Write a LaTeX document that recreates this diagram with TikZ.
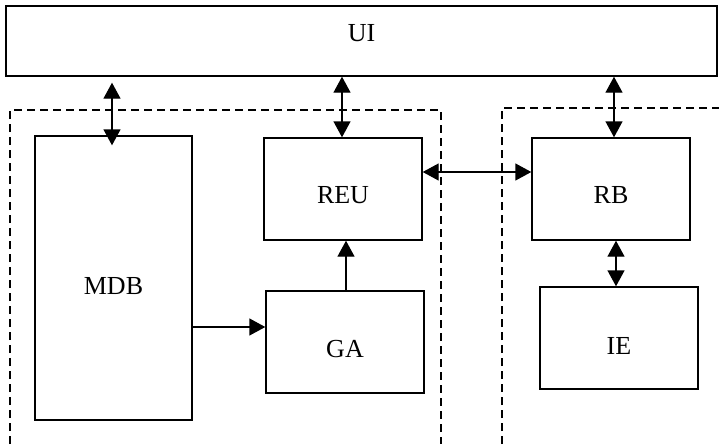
\documentclass[tikz,border=0pt]{standalone}
\usepackage{fontspec}
\setmainfont{Liberation Serif}
\usetikzlibrary{arrows.meta}
\tikzset{
  box/.style={draw, line width=1.4pt, rectangle, inner sep=0pt, fill=white},
  region/.style={draw, line width=1.3pt, dash pattern=on 8pt off 5pt},
  conn/.style={line width=1.4pt},
  tip/.style={-{Triangle[length=16pt,width=17pt]}},
  dbl/.style={{Triangle[length=16pt,width=17pt]}-{Triangle[length=16pt,width=17pt]}},
  lbl/.style={font=\fontsize{26}{30}\selectfont, inner sep=0pt}
}
\begin{document}
\begin{tikzpicture}[x=1pt, y=-1pt]
\useasboundingbox (0,0) rectangle (719,444);
% dashed regions
\draw[region] (10,444) -- (10,110) -- (441,110) -- (441,444);
\draw[region] (502,444) -- (502,108) -- (719,108);
% boxes
\node[box, minimum width=711pt, minimum height=70pt] (UI) at (361.5,41) {};
\node[lbl, yshift=8pt] (UIt) at (UI.center) {UI};
\node[box, minimum width=157pt, minimum height=284pt] (MDB) at (113.5,278) {};
\node[lbl, yshift=-8pt] (MDBt) at (MDB.center) {MDB};
\node[box, minimum width=158pt, minimum height=102pt] (REU) at (343,189) {};
\node[lbl, yshift=-6pt] (REUt) at (REU.center) {REU};
\node[box, minimum width=158pt, minimum height=102pt] (GA) at (345,342) {};
\node[lbl, yshift=-7pt] (GAt) at (GA.center) {GA};
\node[box, minimum width=158pt, minimum height=102pt] (RB) at (611,189) {};
\node[lbl, yshift=-6.5pt] (RBt) at (RB.center) {RB};
\node[box, minimum width=158pt, minimum height=102pt] (IE) at (619,338) {};
\node[lbl, yshift=-8pt] (IEt) at (IE.center) {IE};
% connectors
\draw[conn, dbl] ([xshift=-1.5pt, yshift=-6pt]UI.south -| MDB.north) -- ([xshift=-1.5pt, yshift=-10pt]MDB.north);
\draw[conn, dbl] ([xshift=-1pt]UI.south -| REU.north) -- ([xshift=-1pt]REU.north);
\draw[conn, dbl] ([xshift=3pt]RB.north |- UI.south) -- ([xshift=3pt]RB.north);
\draw[conn, dbl] ([yshift=17pt]REU.east) -- ([yshift=17pt]REU.east -| RB.west);
\draw[conn, tip] ([xshift=1pt]GA.north) -- ([xshift=1pt]GA.north |- REU.south);
\draw[conn, tip] ([yshift=15pt]GA.west -| MDB.east) -- ([yshift=15pt]GA.west);
\draw[conn, dbl] ([xshift=5pt]RB.south) -- ([xshift=5pt]RB.south |- IE.north);
\end{tikzpicture}
\end{document}
